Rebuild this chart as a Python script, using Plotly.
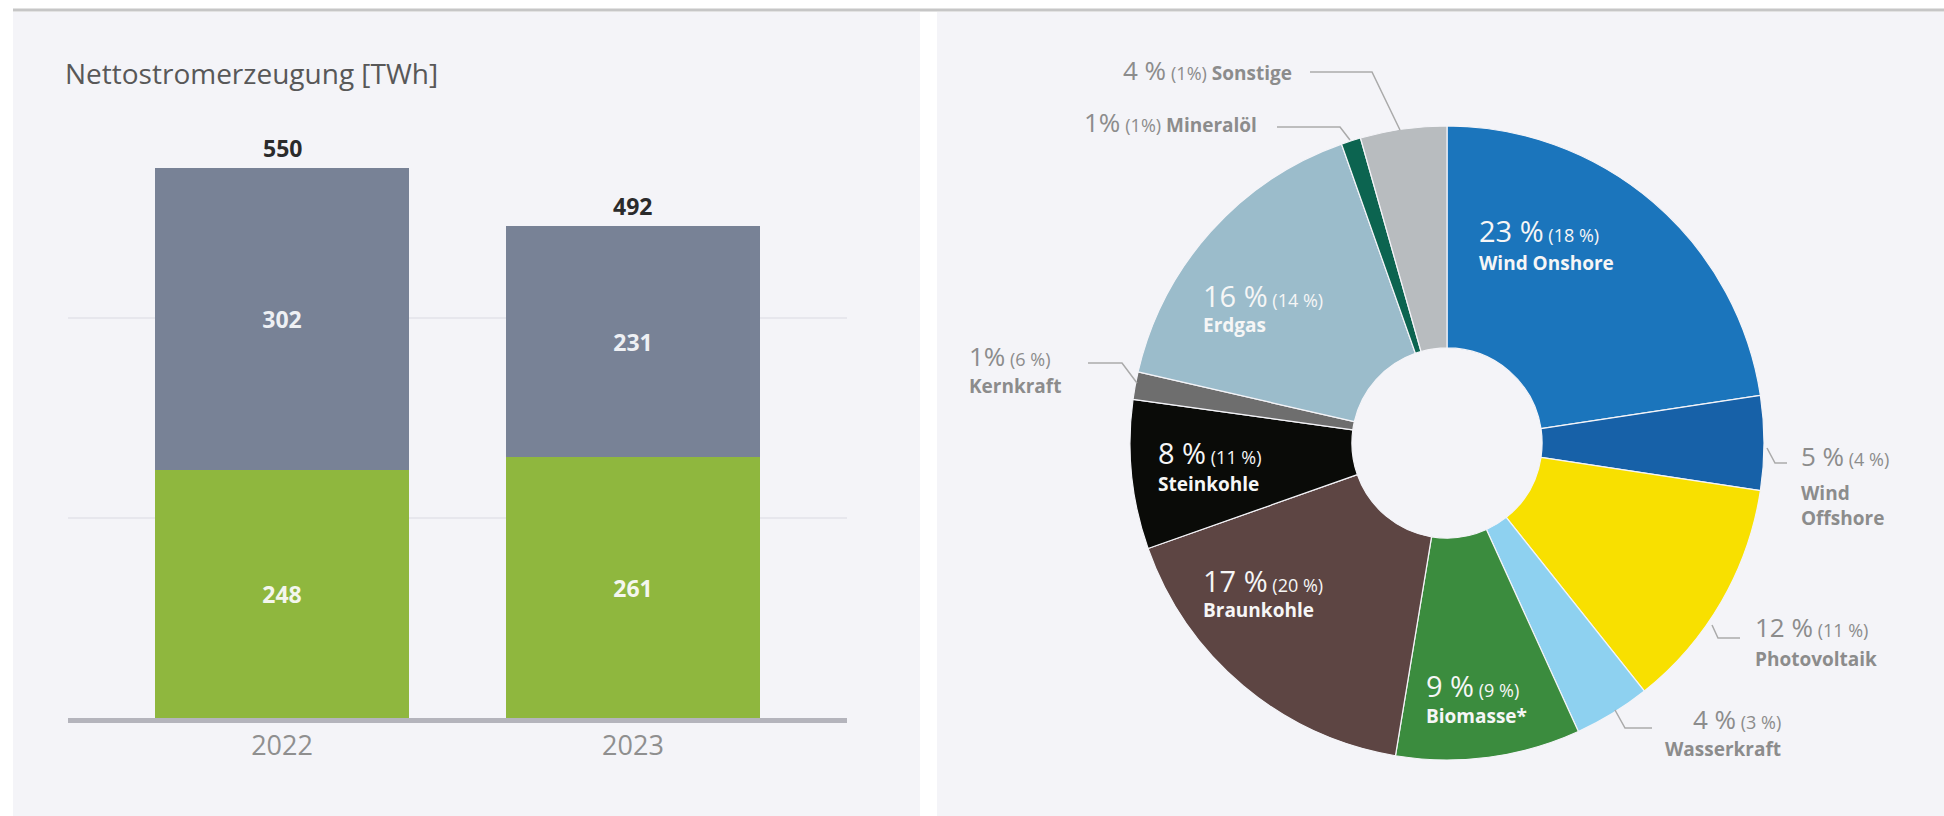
import plotly.graph_objects as go

W, H = 1944, 816

# ---------------- data ----------------
years = ["2022", "2023"]
renewable_twh = [248, 261]
conventional_twh = [302, 231]
total_twh = [550, 492]

sources = ["Wind Onshore", "Wind Offshore", "Photovoltaik", "Wasserkraft", "Biomasse*",
           "Braunkohle", "Steinkohle", "Kernkraft", "Erdgas", "Mineralöl", "Sonstige"]
share_2023 = [22.6, 4.8, 11.9, 3.9, 9.4, 17.0, 7.6, 1.4, 16.0, 1.0, 4.4]
label_2023 = ["23 %", "5 %", "12 %", "4 %", "9 %", "17 %", "8 %", "1%", "16 %", "1%", "4 %"]
label_2022 = ["(18 %)", "(4 %)", "(11 %)", "(3 %)", "(9 %)", "(20 %)", "(11 %)", "(6 %)", "(14 %)", "(1%)", "(1%)"]
source_colors = ["#1b75bc", "#1761a8", "#f8e000", "#8ed1f0", "#3b8c3e", "#5d4543",
                 "#0a0b08", "#6e6e6e", "#9bbccb", "#0c6450", "#b8bcbf"]

FONT = "Open Sans"
GRAY_TXT = "#8c8c8c"


def px(x):
    return x / W


def py(y):
    return 1 - y / H


fig = go.Figure()

# ---------------- bar chart ----------------
fig.add_trace(go.Bar(
    x=years, y=renewable_twh, marker=dict(color="#8fb73e", line=dict(width=0)),
    text=[str(v) for v in renewable_twh], textposition="inside", insidetextanchor="middle",
    textfont=dict(family=FONT, size=23, color="#f4f6ee", weight="bold"),
    width=0.726, xaxis="x", yaxis="y", showlegend=False,
))
fig.add_trace(go.Bar(
    x=years, y=conventional_twh, marker=dict(color="#788296", line=dict(width=0)),
    text=[str(v) for v in conventional_twh], textposition="inside", insidetextanchor="middle",
    textfont=dict(family=FONT, size=23, color="#eef0f4", weight="bold"),
    width=0.726, xaxis="x", yaxis="y", showlegend=False,
))

annotations = []
for i, tot in enumerate(total_twh):
    annotations.append(dict(
        x=i, y=tot, xref="x", yref="y", text=f"<b>{tot}</b>", showarrow=False,
        yanchor="bottom", yshift=2, font=dict(family=FONT, size=23, color="#2b2b2b")))

annotations.append(dict(
    x=px(63), y=py(73), xref="paper", yref="paper", xanchor="left", yanchor="middle",
    text="Nettostromerzeugung [TWh]", showarrow=False,
    font=dict(family=FONT, size=28, color="#585858")))

# ---------------- donut ----------------
cx, cy, R = 1447, 443, 317
fig.add_trace(go.Pie(
    labels=sources, values=share_2023, sort=False, direction="clockwise", rotation=0,
    hole=0.30, textinfo="none", showlegend=False,
    marker=dict(colors=source_colors, line=dict(color="#f4f4f8", width=1.2)),
    domain=dict(x=[px(cx - R), px(cx + R)], y=[py(cy + R), py(cy - R)]),
))

# label placement: (x, y_line1, y_line2, anchor, inside)
label_pos = {
    "Wind Onshore": (1478, 230, 263, "left", True),
    "Erdgas": (1202, 295, 325, "left", True),
    "Steinkohle": (1157, 452, 484, "left", True),
    "Braunkohle": (1202, 580, 610, "left", True),
    "Biomasse*": (1425, 685, 716, "left", True),
    "Kernkraft": (968, 356, 386, "left", False),
    "Wind Offshore": (1800, 456, 505, "left", False),
    "Photovoltaik": (1754, 627, 659, "left", False),
    "Wasserkraft": (1782, 719, 749, "right", False),
}
single_line = {"Sonstige": (1293, 70), "Mineralöl": (1258, 122)}

for i, name in enumerate(sources):
    if name in single_line:
        x, y = single_line[name]
        txt = (f"<span style='font-size:26px'>{label_2023[i]}</span> "
               f"<span style='font-size:18px'>{label_2022[i]}</span> <b>{name}</b>")
        annotations.append(dict(x=px(x), y=py(y), xref="paper", yref="paper", xanchor="right",
                                yanchor="middle", text=txt, showarrow=False, borderpad=0,
                                font=dict(family=FONT, size=19, color=GRAY_TXT)))
        continue
    x, y1, y2, anc, inside = label_pos[name]
    col = "#f6f6f6" if inside else GRAY_TXT
    big = 29 if inside else 26
    txt1 = (f"<span style='font-size:{big}px'>{label_2023[i]}</span> "
            f"<span style='font-size:18px'>{label_2022[i]}</span>")
    annotations.append(dict(x=px(x), y=py(y1), xref="paper", yref="paper", xanchor=anc,
                            yanchor="middle", text=txt1, showarrow=False, borderpad=0,
                            font=dict(family=FONT, size=18, color=col)))
    nm = name.replace("Wind Offshore", "Wind<br>Offshore")
    annotations.append(dict(x=px(x), y=py(y2), xref="paper", yref="paper", xanchor=anc,
                            yanchor="middle", text=f"<b>{nm}</b>", showarrow=False,
                            borderpad=0, align=anc,
                            font=dict(family=FONT, size=19, color=col)))

# ---------------- decorative shapes ----------------
shapes = [
    dict(type="rect", xref="paper", yref="paper", x0=px(13), x1=px(920), y0=0, y1=py(12),
         fillcolor="#f4f4f8", line=dict(width=0), layer="below"),
    dict(type="rect", xref="paper", yref="paper", x0=px(937), x1=1, y0=0, y1=py(12),
         fillcolor="#f4f4f8", line=dict(width=0), layer="below"),
    dict(type="line", xref="paper", yref="paper", x0=px(13), x1=1, y0=py(10), y1=py(10),
         line=dict(color="#c6c6c6", width=3)),
]

leaders = [
    [(1310, 72), (1372, 72), (1400, 130)],
    [(1277, 127), (1340, 127), (1350, 140)],
    [(1088, 363), (1122, 363), (1137, 383)],
    [(1767, 448), (1775, 463), (1787, 463)],
    [(1712, 625), (1718, 638), (1740, 638)],
    [(1615, 710), (1625, 728), (1652, 728)],
]
for pts in leaders:
    path = "M " + " L ".join(f"{px(a):.5f},{py(b):.5f}" for a, b in pts)
    shapes.append(dict(type="path", xref="paper", yref="paper", path=path,
                       line=dict(color="#aaaaaa", width=1.5)))

# ---------------- layout ----------------
fig.update_layout(
    width=W, height=H, margin=dict(l=0, r=0, t=0, b=0),
    paper_bgcolor="#ffffff", plot_bgcolor="rgba(0,0,0,0)",
    barmode="stack", bargap=0,
    font=dict(family=FONT),
    xaxis=dict(domain=[px(68), px(847)], range=[-0.61, 1.61], type="category",
               showline=True, linecolor="#b4b4bc", linewidth=5, ticks="",
               showgrid=False, zeroline=False,
               tickfont=dict(family=FONT, size=27, color="#8f8f8f")),
    yaxis=dict(domain=[py(718), py(128)], range=[0, 590], tickvals=[200, 400],
               showticklabels=False, showgrid=True, gridcolor="#e7e7ed", gridwidth=2,
               zeroline=False, showline=False),
    annotations=annotations,
    shapes=shapes,
)

fig.write_html(
    "out.html",
    config={"displayModeBar": False},
    post_script="document.body.style.margin='0px';document.body.style.overflow='hidden';",
)
